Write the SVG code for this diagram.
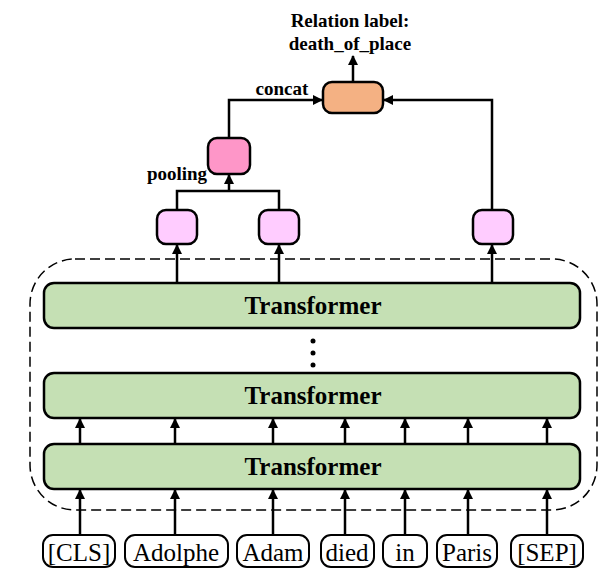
<svg xmlns="http://www.w3.org/2000/svg" width="612" height="577" viewBox="0 0 612 577">
<defs>
<marker id="ah" markerUnits="userSpaceOnUse" markerWidth="10" markerHeight="12" refX="9" refY="5" orient="auto">
<path d="M0,0 L10,5 L0,10 Z" fill="#000"/>
</marker>
<style>
.tr{fill:#c5e0b4;stroke:#000;stroke-width:2.5}
.tt{font-family:"Liberation Serif",serif;font-weight:bold;font-size:25px;text-anchor:middle}
.tok{fill:#fff;stroke:#000;stroke-width:2}
.tokt{font-family:"Liberation Serif",serif;font-size:25px;text-anchor:middle}
.ln{fill:none;stroke:#000;stroke-width:2.5}
.ar{fill:none;stroke:#000;stroke-width:2.5;marker-end:url(#ah)}
.lb{font-family:"Liberation Serif",serif;font-weight:bold;font-size:19px;text-anchor:middle}
.pk{fill:#ffccff;stroke:#000;stroke-width:2.5}
</style>
</defs>
<rect id="encoder" x="30" y="259" width="567" height="251" rx="45" fill="none" stroke="#000" stroke-width="1.5" stroke-dasharray="10,5"/>
<g id="transformer3"><rect class="tr" x="44" y="283" width="536" height="45" rx="10"/><text class="tt" x="313" y="314">Transformer</text></g>
<g id="dots"><circle cx="313" cy="341" r="2.5"/><circle cx="313" cy="353" r="2.5"/><circle cx="313" cy="365" r="2.5"/></g>
<g id="transformer2"><rect class="tr" x="44" y="373" width="536" height="45" rx="10"/><text class="tt" x="313" y="404">Transformer</text></g>
<g id="transformer1"><rect class="tr" x="44" y="444" width="536" height="45" rx="10"/><text class="tt" x="313" y="475">Transformer</text></g>
<g id="tok_cls"><rect class="tok" x="43" y="535" width="72" height="32" rx="10"/><text class="tokt" x="79" y="561">[CLS]</text></g>
<g id="tok_adolphe"><rect class="tok" x="125" y="535" width="103" height="32" rx="10"/><text class="tokt" x="176" y="561">Adolphe</text></g>
<g id="tok_adam"><rect class="tok" x="237" y="535" width="72" height="32" rx="10"/><text class="tokt" x="273" y="561">Adam</text></g>
<g id="tok_died"><rect class="tok" x="321" y="535" width="53" height="32" rx="10"/><text class="tokt" x="347" y="561">died</text></g>
<g id="tok_in"><rect class="tok" x="383" y="535" width="44" height="32" rx="10"/><text class="tokt" x="405" y="561">in</text></g>
<g id="tok_paris"><rect class="tok" x="437" y="535" width="60" height="32" rx="10"/><text class="tokt" x="467" y="561">Paris</text></g>
<g id="tok_sep"><rect class="tok" x="511" y="535" width="72" height="32" rx="10"/><text class="tokt" x="547" y="561">[SEP]</text></g>
<g id="pink1"><rect class="pk" x="157" y="210" width="40" height="34" rx="9"/></g>
<g id="pink2"><rect class="pk" x="259" y="210" width="40" height="34" rx="9"/></g>
<g id="pink3"><rect class="pk" x="473" y="210" width="40" height="34" rx="9"/></g>
<g id="pooling"><rect x="208" y="138" width="42" height="36" rx="9" fill="#fe96c8" stroke="#000" stroke-width="2.5"/><text class="lb" x="177" y="180">pooling</text></g>
<g id="concat"><rect x="323" y="82" width="60" height="31" rx="9" fill="#f4b183" stroke="#000" stroke-width="2.5"/><text class="lb" x="282" y="95">concat</text></g>
<g id="label"><text class="lb" x="350" y="27">Relation label:</text><text class="lb" x="350" y="50">death_of_place</text></g>
<g id="connectors">
<path class="ar" d="M80,535 V490"/>
<path class="ar" d="M175,535 V490"/>
<path class="ar" d="M273,535 V490"/>
<path class="ar" d="M345,535 V490"/>
<path class="ar" d="M405,535 V490"/>
<path class="ar" d="M468,535 V490"/>
<path class="ar" d="M547,535 V490"/>
<path class="ar" d="M80,444 V419"/>
<path class="ar" d="M175,444 V419"/>
<path class="ar" d="M273,444 V419"/>
<path class="ar" d="M345,444 V419"/>
<path class="ar" d="M405,444 V419"/>
<path class="ar" d="M468,444 V419"/>
<path class="ar" d="M547,444 V419"/>
<path class="ar" d="M177,283 V245"/>
<path class="ar" d="M279,283 V245"/>
<path class="ar" d="M492,283 V245"/>
<path class="ln" d="M177,210 V191 H279 V210"/>
<path class="ar" d="M229,191 V175"/>
<path class="ar" d="M229,138 V100 H322"/>
<path class="ar" d="M492,210 V100 H384"/>
<path class="ar" d="M353,82 V56"/>
</g>
</svg>
